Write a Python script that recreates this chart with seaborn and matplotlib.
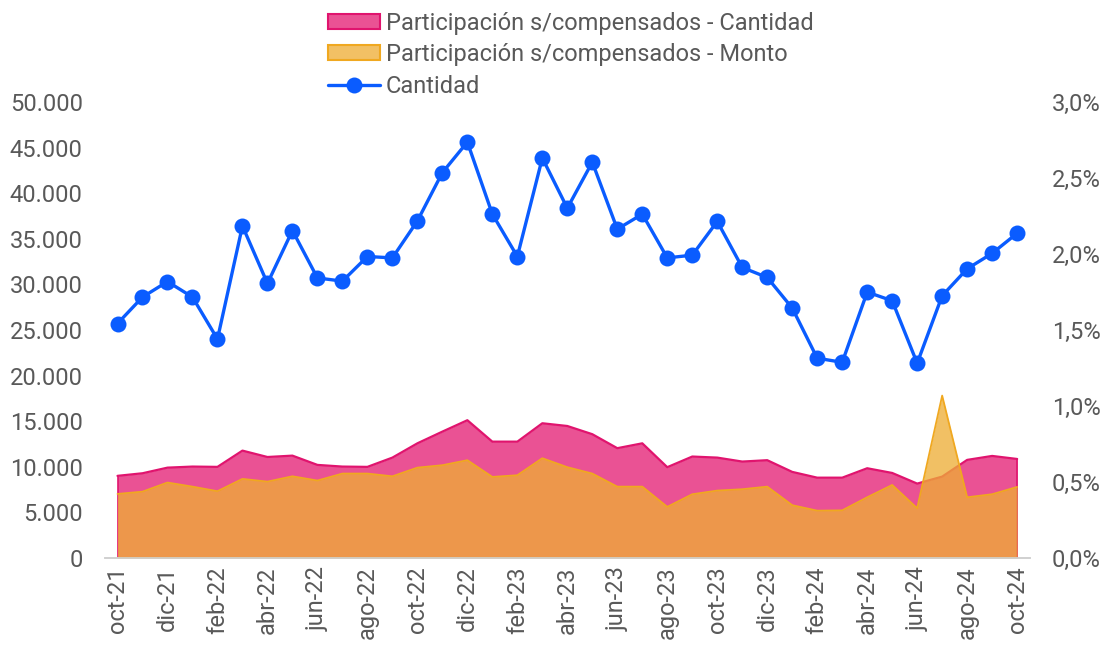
import matplotlib
matplotlib.use('Agg')
import matplotlib.pyplot as plt
import matplotlib.ticker as mticker
from matplotlib.patches import Patch
from matplotlib.lines import Line2D
import seaborn as sns
import pandas as pd
import numpy as np

meses = ["oct-21", "nov-21", "dic-21", "ene-22", "feb-22", "mar-22", "abr-22", "may-22",
         "jun-22", "jul-22", "ago-22", "sep-22", "oct-22", "nov-22", "dic-22", "ene-23",
         "feb-23", "mar-23", "abr-23", "may-23", "jun-23", "jul-23", "ago-23", "sep-23",
         "oct-23", "nov-23", "dic-23", "ene-24", "feb-24", "mar-24", "abr-24", "may-24",
         "jun-24", "jul-24", "ago-24", "sep-24", "oct-24"]

cantidad = [25700, 28600, 30300, 28600, 24000, 36400, 30100, 35900,
            30700, 30350, 33050, 32900, 36950, 42250, 45600, 37700,
            33050, 43850, 38350, 43400, 36050, 37700, 32900, 33200,
            36900, 31850, 30750, 27400, 21900, 21450, 29150, 28200,
            21350, 28750, 31700, 33400, 35600]

# participación sobre compensados (en %)
part_cantidad = [0.540, 0.557, 0.594, 0.601, 0.599, 0.706, 0.664, 0.673,
                 0.612, 0.601, 0.599, 0.660, 0.754, 0.831, 0.906, 0.765,
                 0.765, 0.886, 0.868, 0.814, 0.722, 0.754, 0.597, 0.667,
                 0.660, 0.634, 0.643, 0.566, 0.528, 0.528, 0.590, 0.559,
                 0.489, 0.535, 0.645, 0.671, 0.651]

part_monto = [0.421, 0.436, 0.496, 0.469, 0.439, 0.520, 0.502, 0.537,
              0.509, 0.555, 0.555, 0.537, 0.594, 0.610, 0.643, 0.533,
              0.544, 0.656, 0.597, 0.555, 0.469, 0.469, 0.336, 0.419,
              0.443, 0.452, 0.469, 0.347, 0.311, 0.313, 0.399, 0.480,
              0.327, 1.068, 0.399, 0.419, 0.467]

df = pd.DataFrame({"mes": meses, "cantidad": cantidad,
                   "part_cant": np.array(part_cantidad) / 100,
                   "part_monto": np.array(part_monto) / 100})
df["idx"] = np.arange(len(df))

sns.set_style("white")
plt.rcParams['font.family'] = ['Roboto', 'DejaVu Sans']

PINK_FILL = "#EA5294"
PINK_EDGE = "#E0146E"
YELLOW = "#EEAD36"
YELLOW_EDGE = "#F0A820"
BLUE = "#0A5CFF"
GRAY_TXT = "#595959"
FS = 17

fig = plt.figure(figsize=(11.1, 6.48), dpi=100)
ax = fig.add_axes([0.0946, 0.139, 0.833, 0.7037])

# areas (right axis)
ax.fill_between(df["idx"], 0, df["part_cant"], color=PINK_FILL, lw=0, zorder=1)
ax.plot(df["idx"], df["part_cant"], color=PINK_EDGE, lw=1.6, zorder=2)
ax.fill_between(df["idx"], 0, df["part_monto"], color=YELLOW, alpha=0.77, lw=0, zorder=3)
ax.plot(df["idx"], df["part_monto"], color=YELLOW_EDGE, lw=1.3, zorder=4)
ax.plot([0, 0], [0, df["part_cant"].iloc[0]], color=PINK_EDGE, lw=1.2, zorder=2)
ax.plot([36, 36], [0, df["part_cant"].iloc[-1]], color=PINK_EDGE, lw=1.2, zorder=2)

ax.set_ylim(0, 0.03)
ax.set_xlim(-0.5, 36.5)

# line (left axis)
ax2 = ax.twinx()
sns.lineplot(data=df, x="idx", y="cantidad", ax=ax2, color=BLUE, lw=2.4,
             marker="o", markersize=11.5, markeredgewidth=0, legend=False)
ax2.set_ylim(0, 50000)
ax2.set_xlim(-0.5, 36.5)
ax2.set_xlabel("")
ax2.set_ylabel("")

ax.yaxis.tick_right()
ax.yaxis.set_major_locator(mticker.MultipleLocator(0.005))
ax.yaxis.set_major_formatter(mticker.FuncFormatter(lambda v, p: f"{v*100:.1f}%".replace(".", ",")))
ax2.yaxis.tick_left()
ax2.yaxis.set_major_locator(mticker.MultipleLocator(5000))
ax2.yaxis.set_major_formatter(mticker.FuncFormatter(lambda v, p: f"{int(v):,}".replace(",", ".")))

for a in (ax, ax2):
    for s in ["top", "left", "right"]:
        a.spines[s].set_visible(False)
    a.spines["bottom"].set_color("#D0D0D0")
    a.spines["bottom"].set_linewidth(1.2)
    a.grid(False)

ax.tick_params(axis="y", length=0, pad=16, labelsize=FS, labelcolor=GRAY_TXT)
ax2.tick_params(axis="y", length=0, pad=16, labelsize=FS, labelcolor=GRAY_TXT)

# x ticks: marks between categories, labels every 2 months
ax.set_xticks(np.arange(-0.5, 36.5, 2))
ax.set_xticklabels([])
ax.set_xticks(np.arange(0, 37, 2), minor=True)
ax.set_xticklabels(meses[::2], minor=True, rotation=90)
ax.tick_params(axis="x", which="major", length=6, width=1.2, color="#D0D0D0")
ax.tick_params(axis="x", which="minor", length=0, pad=6, labelsize=FS, labelcolor=GRAY_TXT)
ax2.tick_params(axis="x", which="both", bottom=False, labelbottom=False)

handles = [
    Patch(facecolor=PINK_FILL, edgecolor=PINK_EDGE, lw=1.5),
    Patch(facecolor="#F2C064", edgecolor=YELLOW_EDGE, lw=1.5),
    Line2D([0], [0], color=BLUE, lw=2.4, marker="o", markersize=11.5, markeredgewidth=0),
]
labels = ["Participación s/compensados - Cantidad",
          "Participación s/compensados - Monto",
          "Cantidad"]
leg = fig.legend(handles, labels, loc="upper left", bbox_to_anchor=(0.2955, 0.982),
                 frameon=False, fontsize=FS, handlelength=2.2, handleheight=0.6,
                 handletextpad=0.25, labelspacing=0.36, borderpad=0, borderaxespad=0)
for t in leg.get_texts():
    t.set_color(GRAY_TXT)

fig.savefig("out.png", dpi=100)
